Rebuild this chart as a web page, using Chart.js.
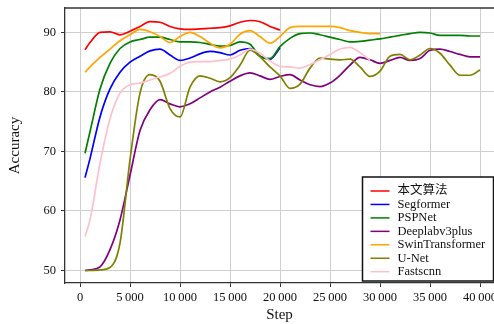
<!DOCTYPE html>
<html>
<head>
<meta charset="utf-8">
<script src="https://cdn.jsdelivr.net/npm/chart.js@4.4.0/dist/chart.umd.min.js"></script>
<style>
html, body { margin: 0; padding: 0; background: #fff; overflow: hidden; }
canvas { display: block; }
</style>
</head>
<body>
<canvas id="myChart" width="494" height="324"></canvas>
<script>
// x values (training step)
const steps = [500, 1000, 2000, 3000, 4000, 5000, 6000, 7000, 8000, 9000, 10000,
    11000, 12000, 13000, 14000, 15000, 16000, 17000, 18000, 19000, 20000,
    21000, 22000, 23000, 24000, 25000, 26000, 27000, 28000, 29000, 30000,
    31000, 32000, 33000, 34000, 35000, 36000, 37000, 38000, 39000, 40000];
const xTicks = [0, 5000, 10000, 15000, 20000, 25000, 30000, 35000, 40000];
const yTicks = [50, 60, 70, 80, 90];

const names = ['本文算法', 'Segformer', 'PSPNet', 'Deeplabv3plus', 'SwinTransformer', 'U-Net', 'Fastscnn'];
const colors = ['#ff0000', '#0000ff', '#008000', '#800080', '#ffa500', '#808000', '#ffc0cb'];

// accuracy per series (same index as steps, shorter series stop early)
const ours = [87.1, 88.3, 90.0, 90.1, 89.6, 90.2, 91.0, 91.8, 91.7, 91.0, 90.6,
    90.5, 90.6, 90.7, 90.8, 91.1, 91.7, 92.0, 91.8, 91.0, 90.4];
const segformer = [65.6, 68.8, 75.8, 80.5, 83.3, 85.0, 86.0, 86.9, 87.2, 86.2, 85.3,
    85.7, 86.4, 86.8, 86.6, 86.2, 87.0, 87.3, 86.0, 85.5, 87.4];
const pspnet = [69.7, 73.3, 80.5, 84.8, 87.3, 88.4, 88.8, 89.2, 89.2, 88.8, 88.4,
    88.4, 88.3, 88.0, 87.7, 87.8, 88.4, 88.0, 86.0, 85.6, 87.6,
    89.0, 89.8, 89.9, 89.6, 89.2, 88.8, 88.4, 88.5, 88.7, 88.9,
    89.2, 89.5, 89.8, 90.0, 89.9, 89.5, 89.5, 89.5, 89.4, 89.4];
const deeplab = [50.0, 50.1, 50.6, 53.5, 58.5, 66.0, 73.5, 77.0, 78.7, 78.0, 77.5,
    78.0, 79.0, 80.0, 80.8, 81.8, 82.7, 83.2, 82.7, 82.1, 82.6,
    82.9, 82.0, 81.2, 80.9, 81.5, 82.8, 84.5, 85.8, 85.4, 84.8,
    85.3, 85.8, 85.3, 85.6, 87.0, 87.2, 86.8, 86.3, 85.9, 85.9];
const swin = [83.3, 84.2, 85.8, 87.2, 88.6, 89.6, 90.5, 90.1, 89.3, 88.3, 89.3,
    90.0, 89.3, 88.2, 87.4, 88.0, 89.7, 90.3, 89.3, 88.2, 89.3,
    90.8, 91.0, 91.0, 91.0, 91.0, 90.8, 90.3, 90.0, 89.8, 89.8];
const unet = [50.0, 50.0, 50.1, 50.5, 54.6, 68.6, 79.8, 82.9, 81.8, 77.2, 75.8,
    80.8, 82.7, 82.3, 81.7, 82.4, 84.5, 87.0, 85.9, 84.2, 82.7,
    80.6, 81.3, 84.0, 85.7, 85.5, 85.4, 85.5, 84.2, 82.6, 83.5,
    86.0, 86.3, 85.4, 86.2, 87.3, 86.5, 84.5, 82.8, 82.8, 83.7];
const fastscnn = [55.7, 58.5, 68.0, 75.5, 79.8, 81.2, 81.5, 82.0, 82.5, 83.1, 84.3,
    85.0, 85.1, 85.1, 85.3, 85.5, 86.2, 87.2, 86.5, 85.2, 84.3,
    84.2, 84.0, 84.6, 85.4, 86.3, 87.2, 87.5, 86.6, 85.3];

const series = [ours, segformer, pspnet, deeplab, swin, unet, fastscnn];

const serif = '"Liberation Serif", "Noto Sans CJK SC", serif';

function fmt(v) {
    return String(v).replace(/\B(?=(\d{3})+(?!\d))/g, '\u2009');
}

// top frame line + legend box in the lower right corner
const frameLegend = {
    id: 'frameLegend',
    afterDraw(chart) {
        const { ctx, chartArea } = chart;
        ctx.save();
        ctx.strokeStyle = '#333';
        ctx.lineWidth = 1.3;
        ctx.beginPath();
        ctx.moveTo(chartArea.left, chartArea.top);
        ctx.lineTo(chartArea.right, chartArea.top);
        ctx.stroke();

        const rowH = 13.45;
        const w = 132, h = 104;
        const x0 = chartArea.right - w + 0.5, y0 = chartArea.bottom - h - 2;
        ctx.fillStyle = '#fff';
        ctx.fillRect(x0, y0, w, h);
        ctx.strokeStyle = '#111';
        ctx.lineWidth = 1.5;
        ctx.strokeRect(x0, y0, w - 1, h);
        ctx.font = '12.5px ' + serif;
        ctx.textBaseline = 'middle';
        chart.data.datasets.forEach((ds, i) => {
            const y = y0 + 14 + i * rowH;
            ctx.strokeStyle = ds.borderColor;
            ctx.lineWidth = 1.5;
            ctx.beginPath();
            ctx.moveTo(x0 + 8, y);
            ctx.lineTo(x0 + 27, y);
            ctx.stroke();
            ctx.fillStyle = '#111';
            ctx.fillText(ds.label, x0 + 35, y);
        });
        ctx.restore();
    }
};

var ctx = document.getElementById('myChart').getContext('2d');
var chart = new Chart(ctx, {
    type: 'line',
    data: {
        datasets: series.map((vals, i) => ({
            label: names[i],
            data: vals.map((v, j) => ({ x: steps[j], y: v })),
            borderColor: colors[i],
            backgroundColor: 'transparent',
            borderWidth: 1.7,
            pointRadius: 0,
            cubicInterpolationMode: 'monotone',
            order: series.length - i
        }))
    },
    options: {
        responsive: false,
        animation: false,
        devicePixelRatio: 1,
        layout: { padding: { top: 8, right: 0, bottom: 0, left: 0 } },
        plugins: { legend: { display: false }, tooltip: { enabled: false } },
        scales: {
            x: {
                type: 'linear',
                min: -1500,
                max: 41400,
                afterBuildTicks: s => { s.ticks = xTicks.map(v => ({ value: v })); },
                afterFit: s => { s.height = 41; s.paddingLeft = 0; s.paddingRight = 0; },
                ticks: {
                    callback: v => fmt(v),
                    color: '#111',
                    font: { family: serif, size: 12.5 },
                    padding: 3,
                    maxRotation: 0,
                    autoSkip: false
                },
                grid: { color: '#cfcfcf', lineWidth: 1, tickColor: '#333', tickLength: 4 },
                border: { color: '#333', width: 1.3 },
                title: {
                    display: true,
                    text: 'Step',
                    color: '#111',
                    font: { family: serif, size: 15 },
                    padding: { top: 0, bottom: 0 }
                }
            },
            y: {
                min: 47.9,
                max: 94.1,
                afterBuildTicks: s => { s.ticks = yTicks.map(v => ({ value: v })); },
                afterFit: s => { s.width = 65; s.paddingTop = 0; s.paddingBottom = 0; },
                ticks: {
                    color: '#111',
                    font: { family: serif, size: 12.5 },
                    padding: 5
                },
                grid: { color: '#cfcfcf', lineWidth: 1, tickColor: '#333', tickLength: 4 },
                border: { color: '#333', width: 1.3 },
                title: {
                    display: true,
                    text: 'Accuracy',
                    color: '#111',
                    font: { family: serif, size: 15 },
                    padding: { top: 6, bottom: 0 }
                }
            }
        }
    },
    plugins: [frameLegend]
});
</script>
</body>
</html>
